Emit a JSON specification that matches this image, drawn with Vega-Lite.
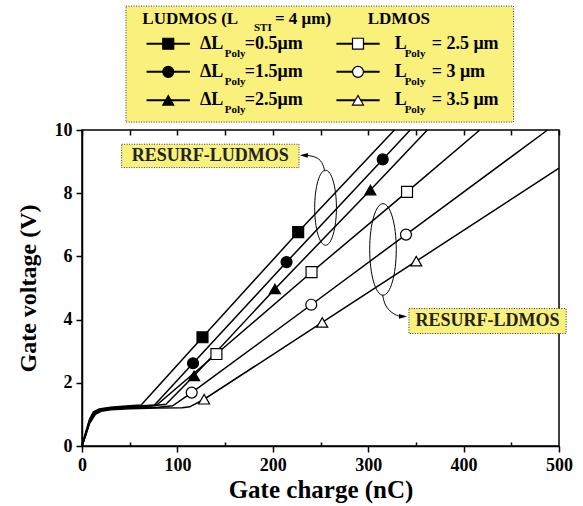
{
  "$schema": "https://vega.github.io/schema/vega-lite/v6.json",
  "autosize": "none",
  "width": 477,
  "height": 316,
  "padding": {"left": 82, "top": 130, "right": 24, "bottom": 60},
  "background": "white",
  "config": {
    "view": {"stroke": "black", "strokeWidth": 1.5},
    "font": "Liberation Serif",
    "axis": {"labelFont": "Liberation Serif", "titleFont": "Liberation Serif", "labelFontWeight": "bold", "titleFontWeight": "bold", "labelColor": "black", "titleColor": "black", "domainColor": "black", "tickColor": "black", "domainWidth": 1.5, "tickWidth": 1.5, "grid": false}
  },
  "datasets": {
    "curves": [
      {"series": "U0.5", "x": 0, "y": 0}, {"series": "U0.5", "x": 4, "y": 0.45}, {"series": "U0.5", "x": 8, "y": 0.85}, {"series": "U0.5", "x": 12, "y": 1.08}, {"series": "U0.5", "x": 18, "y": 1.17}, {"series": "U0.5", "x": 30, "y": 1.23}, {"series": "U0.5", "x": 50, "y": 1.27}, {"series": "U0.5", "x": 62, "y": 1.3}, {"series": "U0.5", "x": 126.3, "y": 3.44}, {"series": "U0.5", "x": 226.6, "y": 6.77}, {"series": "U0.5", "x": 327.5, "y": 10},
      {"series": "U1.5", "x": 0, "y": 0}, {"series": "U1.5", "x": 4, "y": 0.42}, {"series": "U1.5", "x": 8, "y": 0.82}, {"series": "U1.5", "x": 13, "y": 1.07}, {"series": "U1.5", "x": 20, "y": 1.16}, {"series": "U1.5", "x": 30, "y": 1.21}, {"series": "U1.5", "x": 50, "y": 1.25}, {"series": "U1.5", "x": 76, "y": 1.3}, {"series": "U1.5", "x": 116.4, "y": 2.62}, {"series": "U1.5", "x": 214.4, "y": 5.82}, {"series": "U1.5", "x": 315.2, "y": 9.07}, {"series": "U1.5", "x": 344, "y": 10},
      {"series": "U2.5", "x": 0, "y": 0}, {"series": "U2.5", "x": 4, "y": 0.4}, {"series": "U2.5", "x": 8, "y": 0.8}, {"series": "U2.5", "x": 13, "y": 1.05}, {"series": "U2.5", "x": 20, "y": 1.15}, {"series": "U2.5", "x": 30, "y": 1.2}, {"series": "U2.5", "x": 50, "y": 1.24}, {"series": "U2.5", "x": 70, "y": 1.26}, {"series": "U2.5", "x": 88, "y": 1.32}, {"series": "U2.5", "x": 117.5, "y": 2.22}, {"series": "U2.5", "x": 202.2, "y": 4.97}, {"series": "U2.5", "x": 302.3, "y": 8.1}, {"series": "U2.5", "x": 362, "y": 10},
      {"series": "D2.5", "x": 0, "y": 0}, {"series": "D2.5", "x": 4, "y": 0.38}, {"series": "D2.5", "x": 8, "y": 0.78}, {"series": "D2.5", "x": 14, "y": 1.05}, {"series": "D2.5", "x": 20, "y": 1.14}, {"series": "D2.5", "x": 30, "y": 1.19}, {"series": "D2.5", "x": 50, "y": 1.23}, {"series": "D2.5", "x": 78, "y": 1.29}, {"series": "D2.5", "x": 140.9, "y": 2.91}, {"series": "D2.5", "x": 240.6, "y": 5.5}, {"series": "D2.5", "x": 340.7, "y": 8.04}, {"series": "D2.5", "x": 417, "y": 10},
      {"series": "D3", "x": 0, "y": 0}, {"series": "D3", "x": 4, "y": 0.36}, {"series": "D3", "x": 8, "y": 0.75}, {"series": "D3", "x": 14, "y": 1.03}, {"series": "D3", "x": 20, "y": 1.12}, {"series": "D3", "x": 30, "y": 1.17}, {"series": "D3", "x": 50, "y": 1.21}, {"series": "D3", "x": 80, "y": 1.23}, {"series": "D3", "x": 95, "y": 1.27}, {"series": "D3", "x": 115, "y": 1.69}, {"series": "D3", "x": 240.3, "y": 4.47}, {"series": "D3", "x": 339.6, "y": 6.69}, {"series": "D3", "x": 488, "y": 10},
      {"series": "D3.5", "x": 0, "y": 0}, {"series": "D3.5", "x": 4, "y": 0.35}, {"series": "D3.5", "x": 8, "y": 0.72}, {"series": "D3.5", "x": 14, "y": 1.0}, {"series": "D3.5", "x": 20, "y": 1.1}, {"series": "D3.5", "x": 30, "y": 1.15}, {"series": "D3.5", "x": 50, "y": 1.18}, {"series": "D3.5", "x": 80, "y": 1.2}, {"series": "D3.5", "x": 105, "y": 1.21}, {"series": "D3.5", "x": 113, "y": 1.24}, {"series": "D3.5", "x": 128, "y": 1.48}, {"series": "D3.5", "x": 251.8, "y": 3.91}, {"series": "D3.5", "x": 350.4, "y": 5.85}, {"series": "D3.5", "x": 500, "y": 8.79}
    ],
    "markers": [
      {"series": "U0.5", "x": 126.3, "y": 3.44}, {"series": "U0.5", "x": 226.6, "y": 6.77},
      {"series": "U1.5", "x": 116.4, "y": 2.62}, {"series": "U1.5", "x": 214.4, "y": 5.82}, {"series": "U1.5", "x": 315.2, "y": 9.07},
      {"series": "U2.5", "x": 117.5, "y": 2.22}, {"series": "U2.5", "x": 202.2, "y": 4.97}, {"series": "U2.5", "x": 302.3, "y": 8.1},
      {"series": "D2.5", "x": 140.9, "y": 2.91}, {"series": "D2.5", "x": 240.6, "y": 5.5}, {"series": "D2.5", "x": 340.7, "y": 8.04},
      {"series": "D3", "x": 115, "y": 1.69}, {"series": "D3", "x": 240.3, "y": 4.47}, {"series": "D3", "x": 339.6, "y": 6.69},
      {"series": "D3.5", "x": 128, "y": 1.48}, {"series": "D3.5", "x": 251.8, "y": 3.91}, {"series": "D3.5", "x": 350.4, "y": 5.85}
    ],
    "boxes": [
      {"box": "legend", "x": 46.1, "x2": 452.4, "y": 10.25, "y2": 13.92},
      {"box": "RESURF-LUDMOS", "x": 41.5, "x2": 227.5, "y": 8.81, "y2": 9.55},
      {"box": "RESURF-LDMOS", "x": 342.7, "x2": 507.5, "y": 3.56, "y2": 4.35}
    ],
    "labels": [
      {"text": "RESURF-LUDMOS", "x": 134.5, "y": 9.18},
      {"text": "RESURF-LDMOS", "x": 425.1, "y": 3.95}
    ],
    "ellipses": [
      {"group": "LUDMOS", "x": 255.3, "y": 7.54},
      {"group": "LDMOS", "x": 315.5, "y": 6.22}
    ],
    "arrows": [
      {"group": "LUDMOS", "i": 0, "x": 254.5, "y": 8.69}, {"group": "LUDMOS", "i": 1, "x": 252, "y": 9.0}, {"group": "LUDMOS", "i": 2, "x": 245, "y": 9.16}, {"group": "LUDMOS", "i": 3, "x": 235, "y": 9.2},
      {"group": "LDMOS", "i": 0, "x": 315.2, "y": 4.77}, {"group": "LDMOS", "i": 1, "x": 317.3, "y": 4.45}, {"group": "LDMOS", "i": 2, "x": 324.6, "y": 4.2}, {"group": "LDMOS", "i": 3, "x": 333, "y": 4.1}
    ],
    "heads": [
      {"group": "LUDMOS", "x": 232.5, "y": 9.2},
      {"group": "LDMOS", "x": 336.5, "y": 4.1}
    ],
    "legendSym": [
      {"series": "U0.5", "x": 67.7, "x2": 113.1, "xm": 90.4, "y": 12.73},
      {"series": "U1.5", "x": 67.7, "x2": 113.1, "xm": 90.4, "y": 11.84},
      {"series": "U2.5", "x": 67.7, "x2": 113.1, "xm": 90.4, "y": 10.94},
      {"series": "D2.5", "x": 266.7, "x2": 312, "xm": 289.3, "y": 12.73},
      {"series": "D3", "x": 266.7, "x2": 312, "xm": 289.3, "y": 11.84},
      {"series": "D3.5", "x": 266.7, "x2": 312, "xm": 289.3, "y": 10.94}
    ],
    "legendText": [
      {"kind": "head", "text": "LUDMOS (L", "x": 63.2, "y": 13.5},
      {"kind": "sub", "text": "STI", "x": 180.3, "y": 13.23},
      {"kind": "head", "text": "= 4 μm)", "x": 202.2, "y": 13.5},
      {"kind": "head", "text": "LDMOS", "x": 299.5, "y": 13.5},
      {"kind": "main", "text": "ΔL", "x": 123.6, "y": 12.73},
      {"kind": "sub", "text": "Poly", "x": 149.7, "y": 12.41},
      {"kind": "main", "text": "=0.5μm", "x": 170.7, "y": 12.73},
      {"kind": "main", "text": "ΔL", "x": 123.6, "y": 11.84},
      {"kind": "sub", "text": "Poly", "x": 149.7, "y": 11.52},
      {"kind": "main", "text": "=1.5μm", "x": 170.7, "y": 11.84},
      {"kind": "main", "text": "ΔL", "x": 123.6, "y": 10.94},
      {"kind": "sub", "text": "Poly", "x": 149.7, "y": 10.62},
      {"kind": "main", "text": "=2.5μm", "x": 170.7, "y": 10.94},
      {"kind": "main", "text": "L", "x": 327.7, "y": 12.73},
      {"kind": "sub", "text": "Poly", "x": 338.2, "y": 12.41},
      {"kind": "main", "text": "= 2.5 μm", "x": 366.5, "y": 12.73},
      {"kind": "main", "text": "L", "x": 327.7, "y": 11.84},
      {"kind": "sub", "text": "Poly", "x": 338.2, "y": 11.52},
      {"kind": "main", "text": "= 3 μm", "x": 366.5, "y": 11.84},
      {"kind": "main", "text": "L", "x": 327.7, "y": 10.94},
      {"kind": "sub", "text": "Poly", "x": 338.2, "y": 10.62},
      {"kind": "main", "text": "= 3.5 μm", "x": 366.5, "y": 10.94}
    ]
  },
  "resolve": {"axis": {"x": "independent"}},
  "layer": [
    {
      "data": {"name": "boxes"},
      "mark": {"type": "rect", "fill": "#FAF07C", "stroke": "#333333", "strokeWidth": 1, "strokeDash": [1, 1.5]},
      "encoding": {
        "x": {"field": "x", "type": "quantitative", "scale": {"domain": [0, 500], "nice": false}, "axis": null},
        "x2": {"field": "x2"},
        "y": {"field": "y", "type": "quantitative", "scale": {"domain": [0, 10], "nice": false}},
        "y2": {"field": "y2"}
      }
    },
    {
      "data": {"name": "curves"},
      "mark": {"type": "line", "color": "black", "strokeWidth": 1.5},
      "encoding": {
        "x": {"field": "x", "type": "quantitative", "scale": {"domain": [0, 500], "nice": false},
          "axis": {"orient": "bottom", "title": "Gate charge (nC)", "values": [0, 50, 100, 150, 200, 250, 300, 350, 400, 450, 500], "labelExpr": "datum.value % 100 === 0 ? datum.label : ''", "labelFontSize": 18, "titleFontSize": 25, "labelPadding": 4, "titlePadding": 3, "labelFlush": false, "labelOverlap": false,
            "tickSize": {"condition": {"test": "datum.value % 100 === 0", "value": 6}, "value": -4}}},
        "y": {"field": "y", "type": "quantitative", "scale": {"domain": [0, 10], "nice": false},
          "axis": {"title": "Gate voltage (V)", "values": [0, 1, 2, 3, 4, 5, 6, 7, 8, 9, 10], "labelExpr": "datum.value % 2 === 0 ? datum.label : ''", "labelFontSize": 18, "titleFontSize": 24, "labelPadding": 4, "titlePadding": 14, "labelFlush": false, "labelOverlap": false,
            "tickSize": {"condition": {"test": "datum.value % 2 === 0", "value": 6}, "value": -4}}},
        "detail": {"field": "series"}
      }
    },
    {
      "data": {"name": "markers"},
      "mark": {"type": "point", "filled": true, "stroke": "black", "strokeWidth": 1.2, "opacity": 1, "size": 120},
      "encoding": {
        "x": {"field": "x", "type": "quantitative", "scale": {"domain": [0, 500], "nice": false},
          "axis": {"orient": "top", "title": null, "labels": false, "values": [0, 50, 100, 150, 200, 250, 300, 350, 400, 450, 500], "tickSize": -5, "domain": false}},
        "y": {"field": "y", "type": "quantitative", "scale": {"domain": [0, 10], "nice": false}},
        "shape": {"field": "series", "type": "nominal", "legend": null, "scale": {"domain": ["U0.5", "U1.5", "U2.5", "D2.5", "D3", "D3.5"], "range": ["square", "circle", "triangle-up", "square", "circle", "triangle-up"]}},
        "fill": {"field": "series", "type": "nominal", "legend": null, "scale": {"domain": ["U0.5", "U1.5", "U2.5", "D2.5", "D3", "D3.5"], "range": ["black", "black", "black", "white", "white", "white"]}}
      }
    },
    {
      "data": {"name": "ellipses"},
      "transform": [{"filter": "datum.group === 'LUDMOS'"}],
      "mark": {"type": "point", "shape": "M0,-1A0.29,1 0 1,1 0,1A0.29,1 0 1,1 0,-1Z", "size": 5625, "filled": false, "stroke": "black", "strokeWidth": 1, "opacity": 1},
      "encoding": {
        "x": {"field": "x", "type": "quantitative", "scale": {"domain": [0, 500], "nice": false}, "axis": null},
        "y": {"field": "y", "type": "quantitative", "scale": {"domain": [0, 10], "nice": false}}
      }
    },
    {
      "data": {"name": "ellipses"},
      "transform": [{"filter": "datum.group === 'LDMOS'"}],
      "mark": {"type": "point", "shape": "M0,-1A0.29,1 0 1,1 0,1A0.29,1 0 1,1 0,-1Z", "size": 8390, "filled": false, "stroke": "black", "strokeWidth": 1, "opacity": 1},
      "encoding": {
        "x": {"field": "x", "type": "quantitative", "scale": {"domain": [0, 500], "nice": false}, "axis": null},
        "y": {"field": "y", "type": "quantitative", "scale": {"domain": [0, 10], "nice": false}}
      }
    },
    {
      "data": {"name": "arrows"},
      "mark": {"type": "line", "color": "black", "strokeWidth": 1, "interpolate": "basis"},
      "encoding": {
        "x": {"field": "x", "type": "quantitative", "scale": {"domain": [0, 500], "nice": false}, "axis": null},
        "y": {"field": "y", "type": "quantitative", "scale": {"domain": [0, 10], "nice": false}},
        "detail": {"field": "group"},
        "order": {"field": "i"}
      }
    },
    {
      "data": {"name": "heads"},
      "transform": [{"filter": "datum.group === 'LUDMOS'"}],
      "mark": {"type": "point", "shape": "M-1,0L1,-0.6L1,0.6Z", "filled": true, "color": "black", "size": 64, "opacity": 1},
      "encoding": {
        "x": {"field": "x", "type": "quantitative", "scale": {"domain": [0, 500], "nice": false}, "axis": null},
        "y": {"field": "y", "type": "quantitative", "scale": {"domain": [0, 10], "nice": false}}
      }
    },
    {
      "data": {"name": "heads"},
      "transform": [{"filter": "datum.group === 'LDMOS'"}],
      "mark": {"type": "point", "shape": "M1,0L-1,-0.6L-1,0.6Z", "filled": true, "color": "black", "size": 64, "opacity": 1},
      "encoding": {
        "x": {"field": "x", "type": "quantitative", "scale": {"domain": [0, 500], "nice": false}, "axis": null},
        "y": {"field": "y", "type": "quantitative", "scale": {"domain": [0, 10], "nice": false}}
      }
    },
    {
      "data": {"name": "legendSym"},
      "mark": {"type": "rule", "color": "black", "strokeWidth": 2},
      "encoding": {
        "x": {"field": "x", "type": "quantitative", "scale": {"domain": [0, 500], "nice": false}, "axis": null},
        "x2": {"field": "x2"},
        "y": {"field": "y", "type": "quantitative", "scale": {"domain": [0, 10], "nice": false}}
      }
    },
    {
      "data": {"name": "legendSym"},
      "mark": {"type": "point", "filled": true, "stroke": "black", "strokeWidth": 1.2, "opacity": 1, "size": 120},
      "encoding": {
        "x": {"field": "xm", "type": "quantitative", "scale": {"domain": [0, 500], "nice": false}, "axis": null},
        "y": {"field": "y", "type": "quantitative", "scale": {"domain": [0, 10], "nice": false}},
        "shape": {"field": "series", "type": "nominal", "legend": null},
        "fill": {"field": "series", "type": "nominal", "legend": null}
      }
    },
    {
      "data": {"name": "legendText"},
      "transform": [{"filter": "datum.kind === 'head'"}],
      "mark": {"type": "text", "font": "Liberation Serif", "fontWeight": "bold", "fontSize": 17, "align": "left", "baseline": "middle", "color": "black"},
      "encoding": {
        "x": {"field": "x", "type": "quantitative", "scale": {"domain": [0, 500], "nice": false}, "axis": null},
        "y": {"field": "y", "type": "quantitative", "scale": {"domain": [0, 10], "nice": false}},
        "text": {"field": "text"}
      }
    },
    {
      "data": {"name": "legendText"},
      "transform": [{"filter": "datum.kind === 'main'"}],
      "mark": {"type": "text", "font": "Liberation Serif", "fontWeight": "bold", "fontSize": 18, "align": "left", "baseline": "middle", "color": "black"},
      "encoding": {
        "x": {"field": "x", "type": "quantitative", "scale": {"domain": [0, 500], "nice": false}, "axis": null},
        "y": {"field": "y", "type": "quantitative", "scale": {"domain": [0, 10], "nice": false}},
        "text": {"field": "text"}
      }
    },
    {
      "data": {"name": "legendText"},
      "transform": [{"filter": "datum.kind === 'sub'"}],
      "mark": {"type": "text", "font": "Liberation Serif", "fontWeight": "bold", "fontSize": 11, "align": "left", "baseline": "middle", "color": "black"},
      "encoding": {
        "x": {"field": "x", "type": "quantitative", "scale": {"domain": [0, 500], "nice": false}, "axis": null},
        "y": {"field": "y", "type": "quantitative", "scale": {"domain": [0, 10], "nice": false}},
        "text": {"field": "text"}
      }
    },
    {
      "data": {"name": "labels"},
      "mark": {"type": "text", "font": "Liberation Serif", "fontWeight": "bold", "fontSize": 18, "align": "center", "baseline": "middle", "color": "#222222"},
      "encoding": {
        "x": {"field": "x", "type": "quantitative", "scale": {"domain": [0, 500], "nice": false}, "axis": null},
        "y": {"field": "y", "type": "quantitative", "scale": {"domain": [0, 10], "nice": false}},
        "text": {"field": "text"}
      }
    }
  ]
}
